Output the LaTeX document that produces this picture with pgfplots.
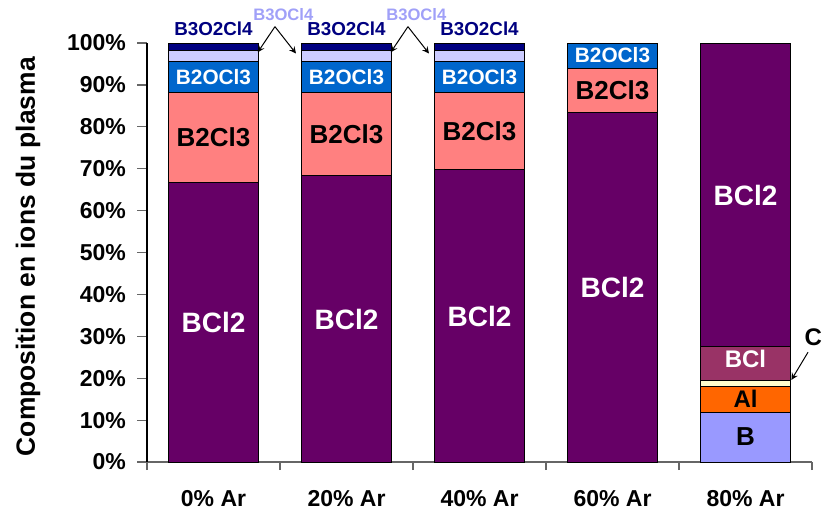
\documentclass[border=0pt]{standalone}
\usepackage{pgfplots}
\pgfplotsset{compat=1.18}
\usepackage{fontspec}
\setmainfont{Liberation Sans}

\definecolor{cBCl2}{HTML}{660066}
\definecolor{cB2Cl3}{HTML}{FF8080}
\definecolor{cB2OCl3}{HTML}{0066CC}
\definecolor{cB3OCl4}{HTML}{CCCCFF}
\definecolor{cB3O2Cl4}{HTML}{000080}
\definecolor{cB}{HTML}{9999FF}
\definecolor{cAl}{HTML}{FF6600}
\definecolor{cC}{HTML}{FFFFCC}
\definecolor{cBCl}{HTML}{993366}
\definecolor{lblB3OCl4}{HTML}{A0A0F8}

\newcommand{\fs}[1]{\fontsize{#1}{#1}\selectfont\bfseries}
\tikzset{lbl/.style={font=\fs{#1}}}

\begin{document}
\begin{tikzpicture}
    \begin{axis}[
        scale only axis,
        width  = 332.5pt,
        height = 209.5pt,
        ybar stacked,
        bar width=0.677,
        xmin=-0.5, xmax=4.5,
        ymin=0, ymax=100,
        clip=false,
        axis x line*=bottom,
        axis y line*=left,
        x axis line style={draw=gray!80!black, line width=0.6pt},
        y axis line style={draw=black, line width=0.6pt},
        tick align=outside,
        xtick={0,1,2,3,4},
        xticklabels={0\% Ar,20\% Ar,40\% Ar,60\% Ar,80\% Ar},
        major x tick style={draw=none},
        minor xtick={-0.5,0.5,1.5,2.5,3.5,4.5},
        minor x tick style={draw=gray!80!black, line width=0.6pt},
        minor tick length=4pt,
        ytick={0,10,...,100},
        yticklabels={0\%,10\%,20\%,30\%,40\%,50\%,60\%,70\%,80\%,90\%,100\%},
        y tick style={draw=gray!80!black, line width=0.6pt},
        major tick length=5pt,
        tick label style={font=\fs{11.5}},
        xticklabel style={yshift=-5.5pt},
        yticklabel style={xshift=-2pt},
        ylabel={Composition en ions du plasma},
        ylabel style={font=\fs{13.2}, at={(axis description cs:0,0.49)}, anchor=center, yshift=59.5pt},
        every axis plot/.append style={draw=black, line width=0.5pt},
    ]
        % bottom to top: B, Al, C, BCl, BCl2, B2Cl3, B2OCl3, B3OCl4, B3O2Cl4
        \addplot[fill=cB] coordinates {(0,0) (1,0) (2,0) (3,0) (4,11.9)};
        \addplot[fill=cAl] coordinates {(0,0) (1,0) (2,0) (3,0) (4,6.2)};
        \addplot[fill=cC] coordinates {(0,0) (1,0) (2,0) (3,0) (4,1.3)};
        \addplot[fill=cBCl] coordinates {(0,0) (1,0) (2,0) (3,0) (4,8.1)};
        \addplot[fill=cBCl2] coordinates {(0,66.6) (1,68.3) (2,69.7) (3,83.5) (4,72.5)};
        \addplot[fill=cB2Cl3] coordinates {(0,21.7) (1,20.0) (2,18.6) (3,10.5) (4,0)};
        \addplot[fill=cB2OCl3] coordinates {(0,7.2) (1,7.2) (2,7.2) (3,6.0) (4,0)};
        \addplot[fill=cB3OCl4] coordinates {(0,2.7) (1,2.7) (2,2.7) (3,0) (4,0)};
        \addplot[fill=cB3O2Cl4] coordinates {(0,1.8) (1,1.8) (2,1.8) (3,0) (4,0)};

        % anchor points for the labels (drawn after the axis, over the bars)
        \coordinate (a0) at (axis cs:0,33.3);
        \coordinate (a1) at (axis cs:1,34.1);
        \coordinate (a2) at (axis cs:2,34.8);
        \coordinate (a3) at (axis cs:3,41.7);
        \coordinate (a4) at (axis cs:4,63.7);
        \coordinate (b0) at (axis cs:0,77.5);
        \coordinate (b1) at (axis cs:1,78.3);
        \coordinate (b2) at (axis cs:2,79.0);
        \coordinate (b3) at (axis cs:3,88.7);
        \coordinate (c0) at (axis cs:0,91.9);
        \coordinate (c1) at (axis cs:1,91.9);
        \coordinate (c2) at (axis cs:2,91.9);
        \coordinate (c3) at (axis cs:3,97.0);
        \coordinate (d0) at (axis cs:0,103.3);
        \coordinate (d1) at (axis cs:1,103.3);
        \coordinate (d2) at (axis cs:2,103.3);
        \coordinate (eBCl) at (axis cs:4,24.6);
        \coordinate (eAl) at (axis cs:4,15.0);
        \coordinate (eB) at (axis cs:4,6.0);
        \coordinate (t0) at (axis cs:0.525,106.8);
        \coordinate (t1) at (axis cs:1.525,106.8);
        \coordinate (s0) at (axis cs:0.462,103.9);
        \coordinate (s1) at (axis cs:1.462,103.9);
        \coordinate (p0) at (axis cs:0.333,97.8);
        \coordinate (q0) at (axis cs:0.620,97.5);
        \coordinate (p1) at (axis cs:1.333,97.8);
        \coordinate (q1) at (axis cs:1.620,97.5);
        \coordinate (tC) at (axis cs:4.51,29.7);
        \coordinate (sC) at (axis cs:4.47,26.2);
        \coordinate (pC) at (axis cs:4.345,19.6);
    \end{axis}

    \foreach \n in {a0,a1,a2,a3,a4} \node[text=white, lbl=14] at (\n) {BCl2};
    \foreach \n in {b0,b1,b2,b3} \node[text=black, lbl=13] at (\n) {B2Cl3};
    \foreach \n in {c0,c1,c2,c3} \node[text=white, lbl=10.4] at (\n) {B2OCl3};
    \foreach \n in {d0,d1,d2} \node[text=cB3O2Cl4, lbl=9.4] at (\n) {B3O2Cl4};
    \node[text=white, lbl=12] at (eBCl) {BCl};
    \node[text=black, lbl=12] at (eAl) {Al};
    \node[text=black, lbl=13] at (eB) {B};
    \foreach \k in {0,1} {
        \node[text=lblB3OCl4, lbl=8.3] at (t\k) {B3OCl4};
        \draw[-stealth, black, line width=0.5pt] (s\k) -- (p\k);
        \draw[-stealth, black, line width=0.5pt] (s\k) -- (q\k);
    }
    \node[text=black, lbl=12] at (tC) {C};
    \draw[-stealth, black, line width=0.5pt] (sC) -- (pC);

    \pgfresetboundingbox
    \path[use as bounding box] ([shift={(-73.5pt,-24pt)}]current axis.south west)
        rectangle ([shift={(5pt,21.5pt)}]current axis.north east);
\end{tikzpicture}
\end{document}
